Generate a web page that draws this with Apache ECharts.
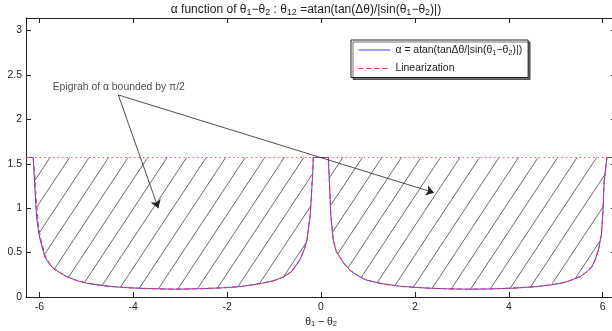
<!DOCTYPE html>
<html>
<head>
<meta charset="utf-8">
<script src="https://cdn.jsdelivr.net/npm/echarts@6/dist/echarts.min.js"></script>
<style>html,body{margin:0;padding:0;background:#fff;}#c{width:612px;height:331px;}</style>
</head>
<body>
<div id="c"></div>
<script>
// ---- data ----
const XS = [-6.2832,-6.13,-6.10,-6.06,-6.02,-5.98,-5.88,-5.80,-5.70,-5.55,-5.42,-5.20,-4.99,-4.60,-4.20,-3.70,-3.14,-2.60,-2.10,-1.70,-1.30,-1.00,-0.80,-0.62,-0.45,-0.36,-0.30,-0.23,-0.18,-0.164,0.156,0.18,0.21,0.26,0.32,0.40,0.50,0.62,0.80,0.97,1.30,1.70,2.20,2.70,3.14,3.60,4.10,4.60,4.95,5.23,5.52,5.65,5.77,5.84,5.91,5.97,6.00,6.03,6.09,6.2832];
const ALPHA = [1.571,1.571,1.28,0.905,0.75,0.64,0.45,0.38,0.32,0.27,0.23,0.185,0.155,0.125,0.107,0.095,0.088,0.093,0.103,0.118,0.150,0.185,0.225,0.29,0.42,0.53,0.64,0.905,1.36,1.571,1.571,1.28,0.905,0.64,0.52,0.45,0.37,0.30,0.235,0.19,0.15,0.12,0.102,0.092,0.088,0.091,0.100,0.117,0.14,0.17,0.23,0.28,0.34,0.42,0.53,0.70,0.905,1.28,1.571,1.571];
const LIN = [1.571,1.571,1.40,1.05,0.82,0.68,0.47,0.39,0.325,0.27,0.23,0.185,0.155,0.125,0.107,0.095,0.088,0.093,0.103,0.118,0.150,0.185,0.225,0.29,0.42,0.53,0.64,0.92,1.38,1.571,1.571,1.30,0.92,0.65,0.52,0.45,0.37,0.30,0.235,0.19,0.15,0.12,0.102,0.092,0.088,0.091,0.100,0.117,0.14,0.17,0.23,0.28,0.34,0.42,0.53,0.70,0.92,1.30,1.571,1.571];
const BOUND_X = [-6.2832, 6.2832];
const BOUND_Y = [1.5708, 1.5708];
const X_TICKS = [-6,-4,-2,0,2,4,6];
const Y_TICKS = [0,0.5,1,1.5,2,2.5,3];
const X_RANGE = [-6.2832, 6.2832];
const Y_RANGE = [0, 3.1416];
// hatch parameters (data units)
const HATCH_START = -5.772, HATCH_STEP = 0.4158, HATCH_SLOPE = 0.80;
// annotation
const ANNOT_TEXT = 'Epigrah of α bounded by π/2';
const ANNOT_POS = [-5.715, 2.36];
const ARROW_FROM = [-4.317, 2.275];
const ARROW_TO = [[-3.465, 0.999], [2.407, 1.175]];

const FONT = 'Liberation Sans';
const TXT = '#222';
const FS = 10.4;
const SUB = { fontSize: 7.5, fontFamily: FONT, color: TXT, padding: [5, 0, 0, 0] };

function curveAt(x) {
  if (x <= XS[0]) return ALPHA[0];
  for (let i = 1; i < XS.length; i++) {
    if (x <= XS[i]) {
      const t = (x - XS[i-1]) / (XS[i] - XS[i-1]);
      return ALPHA[i-1] + t * (ALPHA[i] - ALPHA[i-1]);
    }
  }
  return ALPHA[ALPHA.length-1];
}
const bTop = BOUND_Y[0];
const hatch = [];
for (let k = -3; k < 40; k++) {
  const x0 = HATCH_START + k * HATCH_STEP;
  let run = null;
  const step = 0.001;
  for (let x = x0; x >= x0 - 2.3; x -= step) {
    const y = bTop + HATCH_SLOPE * (x - x0);
    const inside = x >= X_RANGE[0] && x <= X_RANGE[1] && y <= bTop + 1e-9 && y > curveAt(x);
    if (inside) {
      if (!run) run = [[x, y], [x, y]]; else run[1] = [x, y];
    } else if (run) {
      hatch.push({ coords: run }); run = null;
    }
  }
  if (run) hatch.push({ coords: run });
}

const chart = echarts.init(document.getElementById('c'), null, { renderer: 'canvas' });
const axisCommon = {
  type: 'value',
  axisLine: { show: true, onZero: false, lineStyle: { color: TXT, width: 1 } },
  splitLine: { show: false },
};
chart.setOption({
  animation: false,
  backgroundColor: '#fff',
  textStyle: { fontFamily: FONT },
  title: {
    text: 'α function of θ{s|1}−θ{s|2} : θ{s|12} =atan(tan(Δθ)/|sin(θ{s|1}−θ{s|2})|)',
    left: 'center', top: -2,
    textStyle: { fontSize: 12, fontWeight: 'normal', fontFamily: FONT, color: TXT,
                 rich: { s: Object.assign({}, SUB, { fontSize: 9 }) } }
  },
  grid: { left: 26, top: 18, width: 590, height: 279, containLabel: false, outerBoundsMode: 'none' },
  xAxis: [
    Object.assign({}, axisCommon, {
      min: X_RANGE[0], max: X_RANGE[1], position: 'bottom',
      axisTick: { show: true, inside: true, length: 5, customValues: X_TICKS, lineStyle: { color: TXT } },
      axisLabel: { show: true, customValues: X_TICKS, margin: 5, fontSize: FS, fontFamily: FONT, color: TXT },
      name: 'θ{s|1} − θ{s|2}', nameLocation: 'middle', nameGap: 18,
      nameTextStyle: { fontSize: FS, fontFamily: FONT, color: TXT, rich: { s: SUB } }
    }),
    Object.assign({}, axisCommon, {
      min: X_RANGE[0], max: X_RANGE[1], position: 'top',
      axisTick: { show: true, inside: true, length: 5, customValues: X_TICKS, lineStyle: { color: TXT } },
      axisLabel: { show: false }
    })
  ],
  yAxis: [
    Object.assign({}, axisCommon, {
      min: Y_RANGE[0], max: Y_RANGE[1], position: 'left',
      axisTick: { show: true, inside: true, length: 5, customValues: Y_TICKS, lineStyle: { color: TXT } },
      axisLabel: { show: true, customValues: Y_TICKS, margin: 4, fontSize: FS, fontFamily: FONT, color: TXT }
    }),
    Object.assign({}, axisCommon, {
      min: Y_RANGE[0], max: Y_RANGE[1], position: 'right',
      axisTick: { show: true, inside: true, length: 5, customValues: Y_TICKS, lineStyle: { color: TXT } },
      axisLabel: { show: false }
    })
  ],
  legend: {
    orient: 'vertical', left: 351, top: 40,
    data: ['alpha', 'Linearization'],
    itemWidth: 32, itemHeight: 12, itemGap: 7,
    padding: [5, 6, 4, 7],
    backgroundColor: '#fff', borderColor: TXT, borderWidth: 1,
    shadowColor: 'rgba(0,0,0,0.55)', shadowOffsetX: 2, shadowOffsetY: 2, shadowBlur: 0,
    itemStyle: { opacity: 0 },
    lineStyle: { width: 1 },
    formatter: function (n) { return n === 'alpha' ? 'α = atan(tanΔθ/|sin(θ{s|1}−θ{s|2})|)' : 'Linearization'; },
    textStyle: { fontSize: FS, fontFamily: FONT, color: TXT, rich: { s: SUB } }
  },
  series: [
    {
      type: 'lines', coordinateSystem: 'cartesian2d', silent: true, z: 1,
      lineStyle: { color: '#444', width: 0.8, opacity: 1 },
      data: hatch
    },
    {
      type: 'line', silent: true, symbol: 'none', z: 2,
      lineStyle: { color: '#ff5c5c', width: 1, type: [1.5, 3] },
      data: BOUND_X.map((x, i) => [x, BOUND_Y[i]])
    },
    {
      name: 'alpha', type: 'line', symbol: 'none', z: 3, smooth: false,
      lineStyle: { color: '#4040ff', width: 1 }, itemStyle: { color: '#4040ff' },
      data: XS.map((x, i) => [x, ALPHA[i]])
    },
    {
      name: 'Linearization', type: 'line', symbol: 'none', z: 4,
      lineStyle: { color: '#f03848', width: 1.1, type: [5, 3] }, itemStyle: { color: '#f03848' },
      data: XS.map((x, i) => [x, LIN[i]])
    },
    {
      type: 'lines', coordinateSystem: 'cartesian2d', silent: true, z: 5,
      symbol: ['none', 'arrow'], symbolSize: 8,
      lineStyle: { color: '#222', width: 0.8, opacity: 1 },
      data: ARROW_TO.map(t => ({ coords: [ARROW_FROM, t] }))
    },
    {
      type: 'scatter', silent: true, symbolSize: 0, z: 6,
      data: [ANNOT_POS],
      label: { show: true, position: 'right', distance: 0, formatter: ANNOT_TEXT,
               fontSize: FS, fontFamily: FONT, color: TXT }
    }
  ]
});
</script>
</body>
</html>
